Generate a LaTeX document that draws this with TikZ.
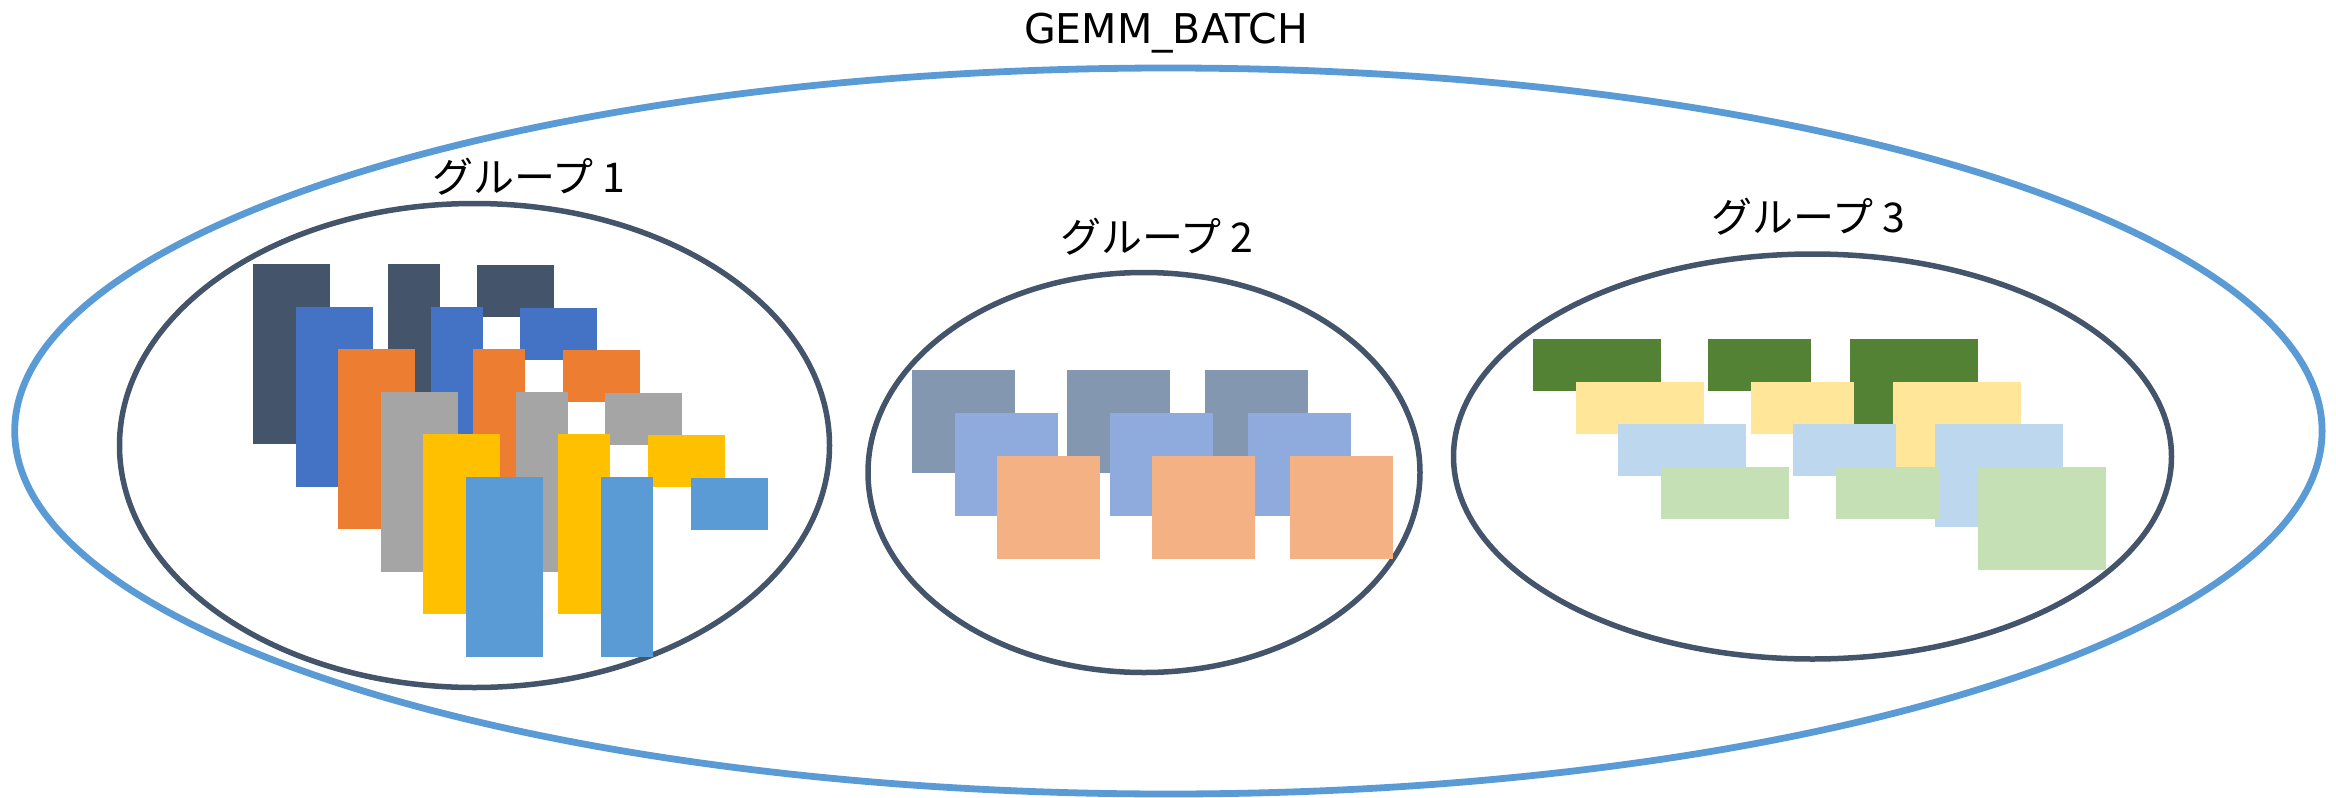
\documentclass[tikz,border=0pt]{standalone}
\usepackage{fontspec}
\setmainfont{Noto Sans CJK JP}
\newfontfamily\titlefont{DejaVu Sans}
\usetikzlibrary{shapes.geometric}

% palette
\definecolor{cDark}{HTML}{44546A}
\definecolor{cBlue}{HTML}{4472C4}
\definecolor{cOrange}{HTML}{ED7D31}
\definecolor{cGrey}{HTML}{A5A5A5}
\definecolor{cGold}{HTML}{FFC000}
\definecolor{cSky}{HTML}{5B9BD5}
\definecolor{cSlate}{HTML}{8497B0}
\definecolor{cPeri}{HTML}{8FAADC}
\definecolor{cPeach}{HTML}{F4B183}
\definecolor{cGreen}{HTML}{548235}
\definecolor{cCream}{HTML}{FFE699}
\definecolor{cIce}{HTML}{BDD7EE}
\definecolor{cMint}{HTML}{C5E0B4}

\begin{document}
\begin{tikzpicture}[x=0.5pt,y=-0.5pt,
  tile/.style={draw=none, inner sep=0pt, outer sep=0pt, anchor=north west},
  group/.style={ellipse, draw=cDark, line width=2.75pt, inner sep=0pt, outer sep=0pt},
  batch/.style={ellipse, draw=cSky, line width=3.4pt, inner sep=0pt, outer sep=0pt},
  lbl/.style={font=\fontsize{20.5}{24}\selectfont, anchor=base, inner sep=0pt, text=black}]

\useasboundingbox (0,0) rectangle (2336,798);

% outer batch and the three groups
\node[batch, minimum width=1153.7pt, minimum height=363pt] (batch) at (1168.4,431) {};
\node[group, minimum width=355pt, minimum height=242pt] (grp1) at (474.5,445.5) {};
\node[group, minimum width=276pt, minimum height=200pt] (grp2) at (1144,472.5) {};
\node[group, minimum width=359pt, minimum height=202.5pt] (grp3) at (1812.5,456.5) {};

% group 1: three stacks of six matrices
\foreach \col [count=\r from 0] in {cDark,cBlue,cOrange,cGrey,cGold,cSky} {
  \node[tile, fill=\col, minimum width=38.5pt, minimum height=90pt]
    (g1a\r) at (253+42.6*\r, 264+42.6*\r) {};
  \node[tile, fill=\col, minimum width=26pt, minimum height=90pt]
    (g1b\r) at (388+42.6*\r, 264+42.6*\r) {};
  \node[tile, fill=\col, minimum width=38.5pt, minimum height=26pt]
    (g1c\r) at (477+42.8*\r, 265+42.6*\r) {};
}

% group 2: three stacks of three square matrices
\foreach \col [count=\r from 0] in {cSlate,cPeri,cPeach} {
  \node[tile, fill=\col, minimum width=51.5pt, minimum height=51.5pt]
    (g2a\r) at (912+42.7*\r, 370+43*\r) {};
  \node[tile, fill=\col, minimum width=51.5pt, minimum height=51.5pt]
    (g2b\r) at (1067+42.7*\r, 370+43*\r) {};
  \node[tile, fill=\col, minimum width=51.5pt, minimum height=51.5pt]
    (g2c\r) at (1205+42.7*\r, 370+43*\r) {};
}

% group 3: three stacks of four matrices
\foreach \col [count=\r from 0] in {cGreen,cCream,cIce,cMint} {
  \node[tile, fill=\col, minimum width=64pt, minimum height=26pt]
    (g3a\r) at (1533+42.7*\r, 339+42.7*\r) {};
  \node[tile, fill=\col, minimum width=51.5pt, minimum height=26pt]
    (g3b\r) at (1708+42.7*\r, 339+42.7*\r) {};
  \node[tile, fill=\col, minimum width=64pt, minimum height=51.5pt]
    (g3c\r) at (1850+42.7*\r, 339+42.7*\r) {};
}

% labels
\node[lbl, font=\titlefont\fontsize{20.5}{24}\selectfont] (title) at (1166,43.3) {GEMM\_BATCH};
\node[lbl] (lab1) at (529,192) {グループ 1};
\node[lbl] (lab2) at (1157,252) {グループ 2};
\node[lbl] (lab3) at (1808.5,232) {グループ 3};
\end{tikzpicture}
\end{document}
